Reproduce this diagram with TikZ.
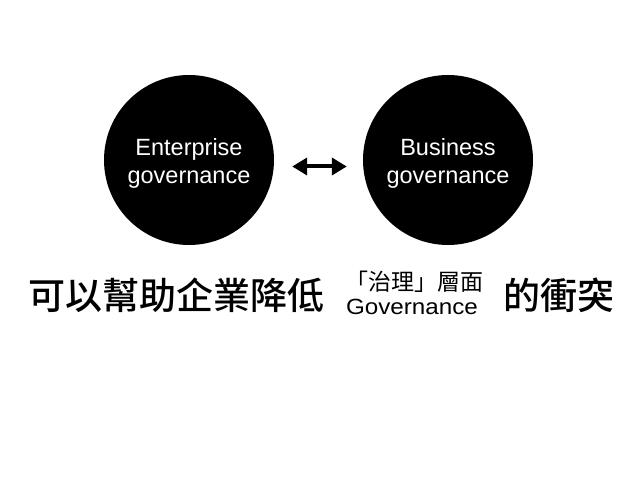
\documentclass[tikz,border=0pt]{standalone}
\usepackage{fontspec}
\setmainfont{Liberation Sans}
\newfontfamily\cjkfont{Noto Sans CJK TC}[BoldFont={Noto Sans CJK TC Medium}]
\newfontfamily\govfont{Liberation Sans}[FakeStretch=1.1]
\usetikzlibrary{arrows.meta}
\tikzset{
  bigcirc/.style={circle, fill=black, draw=none, minimum size=170pt, inner sep=0pt},
  circtext/.style={text=white, align=center, inner sep=0pt, font=\fontsize{23.5}{28}\selectfont},
  biarrow/.style={line width=4pt, {Triangle[length=15pt,width=17pt]}-{Triangle[length=15pt,width=17pt]}, shorten <=18pt, shorten >=16pt},
  bigcjk/.style={anchor=base west, inner sep=0pt, font=\cjkfont\bfseries\fontsize{37}{37}\selectfont},
  smallcjk/.style={anchor=base, inner sep=0pt, font=\cjkfont\fontsize{23}{23}\selectfont},
  govtext/.style={anchor=base, inner sep=0pt, font=\govfont\fontsize{22}{22}\selectfont}
}
\begin{document}
\begin{tikzpicture}[x=1pt,y=1pt]
\useasboundingbox[fill=white] (0,0) rectangle (638,479);
\node[bigcirc] (e) at (189,319) {};
\node[bigcirc] (b) at (448,319) {};
\node[circtext] (etext) at ([yshift=-3pt]e.center) {Enterprise\\governance};
\node[circtext] (btext) at ([yshift=-3pt]b.center) {Business\\governance};
\draw[biarrow] ([yshift=-6.5pt]e.east) -- ([yshift=-6.5pt]b.west);
\node[bigcjk] (t1) at (28,169) {可以幫助企業降低};
\node[smallcjk] (t2) at (414,188.5) {「治理」層面};
\node[govtext] (t3) at (412,164) {Governance};
\node[bigcjk] (t4) at (503,169) {的衝突};
\end{tikzpicture}
\end{document}
